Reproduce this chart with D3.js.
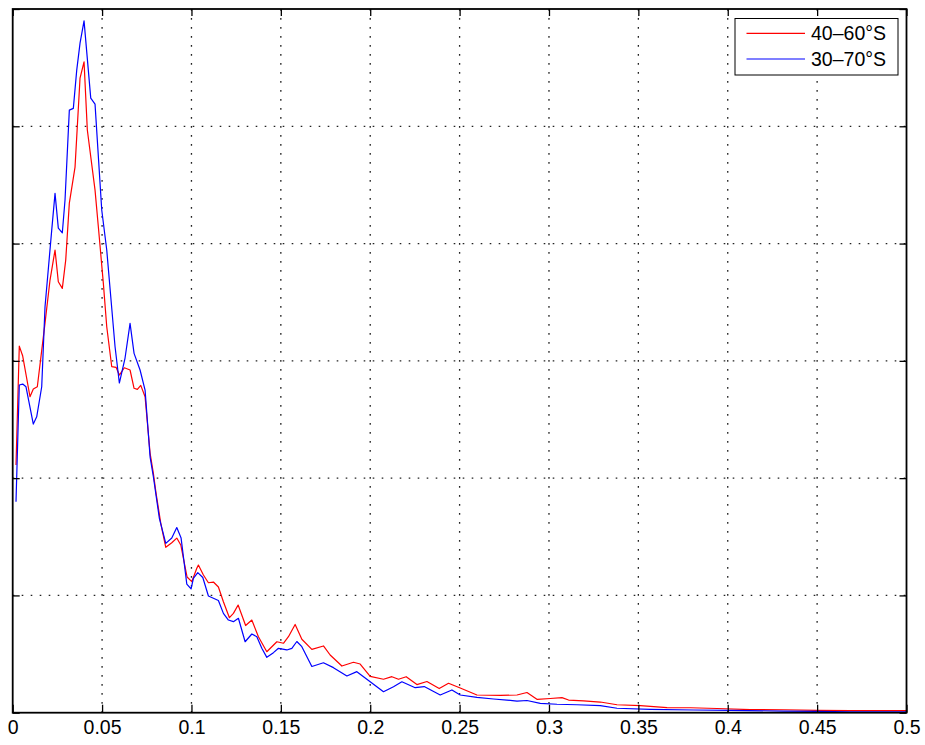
<!DOCTYPE html>
<html>
<head>
<meta charset="utf-8">
<script src="https://cdn.jsdelivr.net/npm/d3@7"></script>
<style>
  html, body { margin: 0; padding: 0; background: #fff; }
  svg { display: block; font-family: "Liberation Sans", Arial, Helvetica, sans-serif; }
</style>
</head>
<body>
<svg id="chart" width="925" height="745"></svg>
<script>
// Spectra for two latitude bands (frequency vs. power, arbitrary units)
const freqRed = [0.00185,0.00369,0.0056,0.00968,0.01153,0.01377,0.01808,0.02088,0.02368,0.02552,0.02776,0.02966,0.03168,0.03487,0.03767,0.03991,0.04175,0.04606,0.04791,0.05071,0.05261,0.05541,0.05782,0.05966,0.06246,0.06565,0.06789,0.06974,0.07164,0.07405,0.07685,0.07869,0.0802,0.08283,0.08563,0.08899,0.09179,0.09403,0.09755,0.10019,0.10298,0.10388,0.10668,0.10948,0.11228,0.11507,0.11787,0.12123,0.12347,0.1261,0.1303,0.13377,0.13746,0.14216,0.14776,0.15145,0.15425,0.158,0.16175,0.16735,0.17384,0.17759,0.18414,0.19063,0.19438,0.19998,0.20742,0.21213,0.21582,0.22013,0.22612,0.23171,0.2386,0.2438,0.25035,0.2597,0.27274,0.28209,0.28768,0.29345,0.30072,0.30727,0.31097,0.31936,0.32871,0.33806,0.3511,0.36604,0.37908,0.39402,0.41266,0.4313,0.45,0.46863,0.5];
const powerRed = [2.112,3.126,3.041,2.694,2.760,2.779,3.322,3.689,3.945,3.674,3.618,3.859,4.345,4.652,5.411,5.550,4.968,4.456,4.143,3.661,3.291,2.950,2.945,2.879,2.941,2.922,2.766,2.757,2.791,2.694,2.214,2.041,1.870,1.615,1.410,1.449,1.489,1.430,1.157,1.117,1.231,1.259,1.174,1.108,1.114,1.072,0.946,0.810,0.847,0.918,0.743,0.790,0.648,0.520,0.605,0.592,0.648,0.752,0.626,0.540,0.569,0.492,0.398,0.430,0.415,0.309,0.285,0.307,0.285,0.307,0.240,0.266,0.206,0.251,0.211,0.151,0.147,0.151,0.172,0.113,0.121,0.128,0.108,0.100,0.091,0.068,0.060,0.044,0.042,0.036,0.027,0.025,0.020,0.018,0.017];

const freqBlue = [0.00185,0.00369,0.0056,0.00744,0.01153,0.01343,0.01623,0.01808,0.02183,0.02368,0.02552,0.02776,0.02927,0.03168,0.03392,0.03582,0.03767,0.03991,0.04366,0.04606,0.04981,0.05261,0.05726,0.05966,0.06285,0.06565,0.06789,0.07125,0.07405,0.07685,0.07869,0.08205,0.08563,0.08899,0.09179,0.0942,0.09739,0.09979,0.10108,0.10354,0.10634,0.10948,0.11507,0.11787,0.12067,0.12347,0.12627,0.13002,0.13377,0.13657,0.13936,0.14216,0.14586,0.14866,0.15336,0.15616,0.15895,0.16175,0.16735,0.17384,0.17944,0.18694,0.19253,0.19998,0.20742,0.21302,0.21772,0.22517,0.2302,0.23916,0.2457,0.25035,0.2597,0.26899,0.27649,0.28209,0.28768,0.29513,0.30447,0.31567,0.32871,0.33806,0.35669,0.38093,0.40147,0.4313,0.45,0.46863,0.5];
const powerBlue = [1.799,2.794,2.802,2.779,2.461,2.523,2.779,3.461,4.115,4.428,4.132,4.092,4.371,5.138,5.153,5.479,5.709,5.899,5.240,5.189,4.286,3.945,3.120,2.811,3.024,3.320,3.064,2.922,2.751,2.182,2.012,1.657,1.444,1.489,1.579,1.489,1.097,1.055,1.146,1.194,1.153,0.995,0.957,0.847,0.790,0.776,0.805,0.605,0.671,0.648,0.549,0.472,0.512,0.549,0.535,0.549,0.607,0.563,0.394,0.426,0.384,0.313,0.350,0.264,0.179,0.222,0.264,0.213,0.223,0.151,0.194,0.151,0.131,0.117,0.108,0.098,0.104,0.080,0.072,0.068,0.060,0.038,0.029,0.023,0.020,0.014,0.012,0.008,0.008];

const xTicks = [0, 0.05, 0.1, 0.15, 0.2, 0.25, 0.3, 0.35, 0.4, 0.45, 0.5];
const yTicks = [0, 1, 2, 3, 4, 5, 6];
const seriesNames = ["40\u201360\u00B0S", "30\u201370\u00B0S"];
const seriesColors = ["#ff0000", "#0000ff"];

const svg = d3.select("#chart");
const plotL = 12.7, plotR = 906.5, plotT = 9, plotB = 712.7;

const x = d3.scaleLinear().domain([0, 0.5]).range([plotL, plotR]);
const y = d3.scaleLinear().domain([0, 6]).range([plotB, plotT]);

svg.append("rect").attr("x", plotL).attr("y", plotT)
  .attr("width", plotR - plotL).attr("height", plotB - plotT).attr("fill", "#fff");

// dotted grid
const grid = svg.append("g").attr("stroke", "#222").attr("stroke-width", 1.3)
  .attr("stroke-dasharray", "1.6,7.4");
grid.selectAll("line.v").data(xTicks.slice(1, -1)).join("line").attr("class", "v")
  .attr("x1", d => x(d)).attr("x2", d => x(d)).attr("y1", plotB).attr("y2", plotT);
grid.selectAll("line.h").data(yTicks.slice(1, -1)).join("line").attr("class", "h")
  .attr("y1", d => y(d)).attr("y2", d => y(d)).attr("x1", plotL).attr("x2", plotR);

// spectra
const line = d3.line().x(d => x(d[0])).y(d => y(d[1]));
const series = [
  d3.zip(freqRed, powerRed),
  d3.zip(freqBlue, powerBlue)
];
svg.selectAll("path.series").data(series).join("path").attr("class", "series")
  .attr("d", line).attr("fill", "none")
  .attr("stroke", (d, i) => seriesColors[i]).attr("stroke-width", 1.2)
  .attr("stroke-linejoin", "round");

// axes with inward ticks
const fmt = d => String(+d.toFixed(2));
const xAxis = svg.append("g").attr("transform", `translate(0,${plotB})`)
  .call(d3.axisBottom(x).tickValues(xTicks).tickFormat(fmt).tickSizeInner(-8).tickSizeOuter(0).tickPadding(7.5));
xAxis.select(".domain").remove();
xAxis.selectAll("text").attr("font-size", 19.5).attr("fill", "#000")
  .attr("font-family", "'Liberation Sans', Arial, Helvetica, sans-serif");
xAxis.selectAll("line").attr("stroke", "#000").attr("stroke-width", 1.3);

const xTop = svg.append("g").attr("transform", `translate(0,${plotT})`)
  .call(d3.axisTop(x).tickValues(xTicks).tickFormat("").tickSizeInner(-7).tickSizeOuter(0));
xTop.select(".domain").remove();
xTop.selectAll("line").attr("stroke", "#000").attr("stroke-width", 1.3);

const yLeft = svg.append("g").attr("transform", `translate(${plotL},0)`)
  .call(d3.axisLeft(y).tickValues(yTicks).tickFormat("").tickSizeInner(-7).tickSizeOuter(0));
yLeft.select(".domain").remove();
yLeft.selectAll("line").attr("stroke", "#000").attr("stroke-width", 1.3);

const yRight = svg.append("g").attr("transform", `translate(${plotR},0)`)
  .call(d3.axisRight(y).tickValues(yTicks).tickFormat("").tickSizeInner(-7).tickSizeOuter(0));
yRight.select(".domain").remove();
yRight.selectAll("line").attr("stroke", "#000").attr("stroke-width", 1.3);

// frame
svg.append("rect").attr("x", plotL).attr("y", plotT)
  .attr("width", plotR - plotL).attr("height", plotB - plotT)
  .attr("fill", "none").attr("stroke", "#000").attr("stroke-width", 1.8);

// legend
const lg = svg.append("g").attr("transform", "translate(735,18.5)");
lg.append("rect").attr("width", 163).attr("height", 56.5)
  .attr("fill", "#fff").attr("stroke", "#000").attr("stroke-width", 1);
seriesNames.forEach((name, i) => {
  const cy = 14.8 + i * 25.7;
  lg.append("line").attr("x1", 11.5).attr("x2", 70).attr("y1", cy).attr("y2", cy)
    .attr("stroke", seriesColors[i]).attr("stroke-width", 1.2);
  lg.append("text").attr("x", 76).attr("y", cy).attr("dy", "0.35em")
    .attr("font-size", 19.5).attr("fill", "#000").text(name);
});
</script>
</body>
</html>
